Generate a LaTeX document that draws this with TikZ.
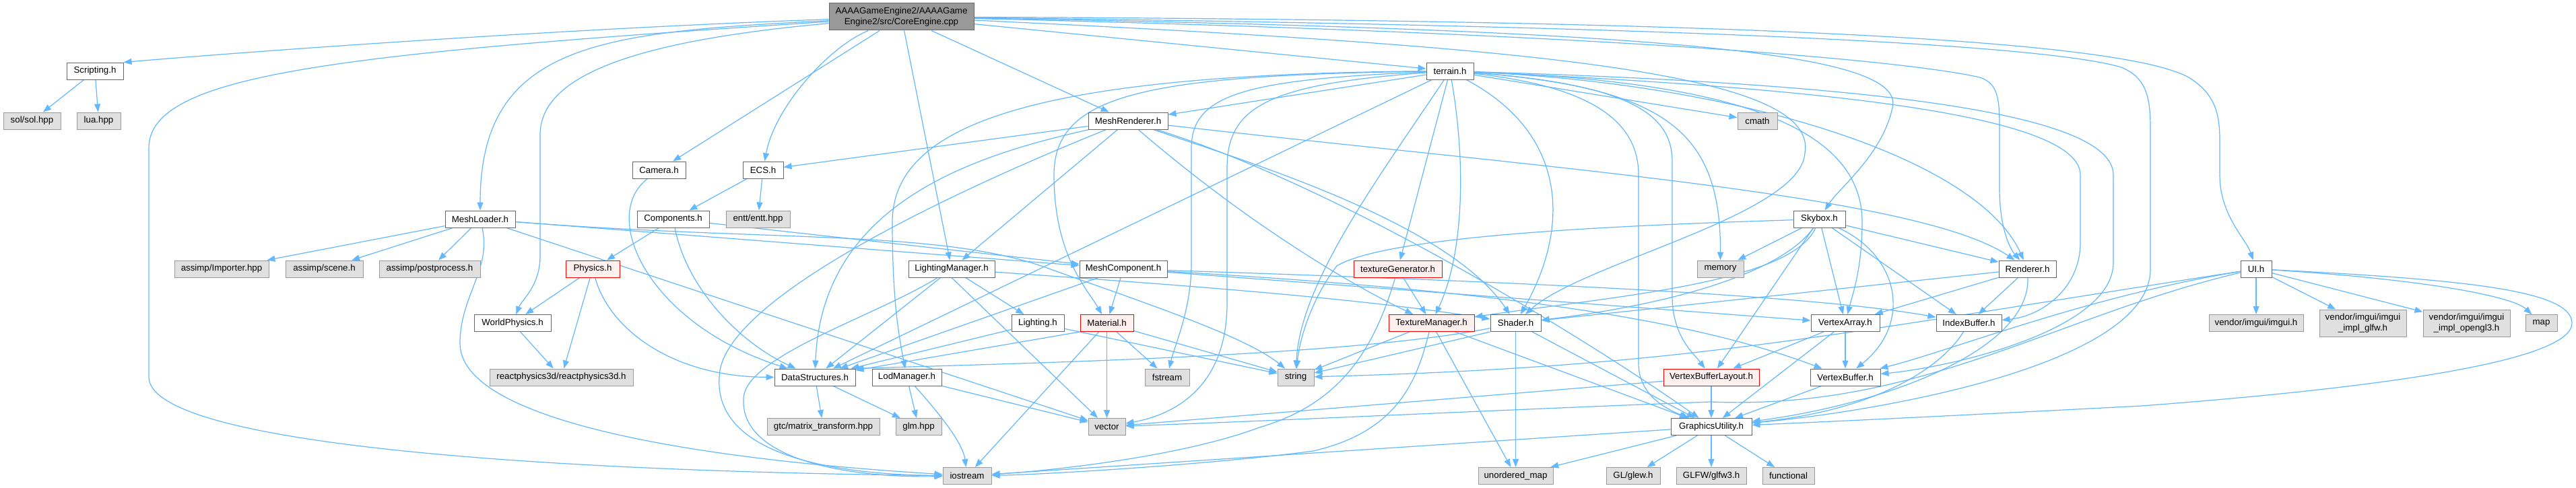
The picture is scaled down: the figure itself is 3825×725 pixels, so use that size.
\documentclass[tikz,border=0pt]{standalone}
\usepackage{fontspec}
\setmainfont{Liberation Sans}
\usetikzlibrary{arrows.meta}
\definecolor{edgeblue}{HTML}{63B8FF}
\definecolor{filedraw}{HTML}{666666}
\definecolor{sysfill}{HTML}{E0E0E0}
\definecolor{sysdraw}{HTML}{999999}
\definecolor{rootfill}{HTML}{999999}
\definecolor{truncfill}{HTML}{FFF0F0}
\definecolor{truncdraw}{HTML}{FF0000}
\pgfdeclarelayer{bg}
\pgfdeclarelayer{edges}
\pgfsetlayers{bg,edges,main}
\begin{document}
\begin{tikzpicture}[x=1pt,y=-1pt,
  nb/.style={draw, rectangle, minimum height=25pt, inner sep=0pt, line width=1pt,
             font=\fontsize{13.3}{15.5}\selectfont, align=center},
  file/.style={nb, fill=white, draw=filedraw},
  sys/.style={nb, fill=sysfill, draw=sysdraw},
  trunc/.style={nb, fill=truncfill, draw=truncdraw},
  rootn/.style={nb, fill=rootfill, draw=filedraw, minimum height=40pt},
  dep/.style={draw=edgeblue, line width=1.2pt, -{Triangle[length=12pt,width=9pt,fill=edgeblue]}}]
\useasboundingbox (0,0) rectangle (3825,725);
\begin{pgfonlayer}{bg}
\fill[white] (0,0) rectangle (3825,725);
\end{pgfonlayer}
% ---------- nodes ----------
\node[rootn, minimum width=215pt] (root) at (1338.5,25) {AAAAGameEngine2/AAAAGame\\Engine2/src/CoreEngine.cpp};
\node[file, minimum width=84pt] (scr) at (141,105.5) {Scripting.h};
\node[sys, minimum width=85pt] (sol) at (47.5,179.5) {sol/sol.hpp};
\node[sys, minimum width=65pt] (lua) at (146.5,179.5) {lua.hpp};
\node[file, minimum width=104pt] (ml) at (713,325.5) {MeshLoader.h};
\node[file, minimum width=79pt] (cam) at (978.5,252.5) {Camera.h};
\node[file, minimum width=60pt] (ecs) at (1133,252.5) {ECS.h};
\node[file, minimum width=107pt] (comp) at (999.5,325.5) {Components.h};
\node[sys, minimum width=95pt] (entt) at (1125.5,325.5) {entt/entt.hpp};
\node[sys, minimum width=140pt] (imp) at (329,399.5) {assimp/Importer.hpp};
\node[sys, minimum width=115pt] (scn) at (481.5,399.5) {assimp/scene.h};
\node[sys, minimum width=150pt] (post) at (638,399.5) {assimp/postprocess.h};
\node[trunc, minimum width=80pt] (phy) at (880,399.5) {Physics.h};
\node[file, minimum width=114pt] (wp) at (761,480) {WorldPhysics.h};
\node[sys, minimum width=213pt] (rp3) at (833.5,560.5) {reactphysics3d/reactphysics3d.h};
\node[file, minimum width=120pt] (ds) at (1210,560.5) {DataStructures.h};
\node[sys, minimum width=167pt] (gtc) at (1222.5,634) {gtc/matrix\_transform.hpp};
\node[file, minimum width=118pt] (mr) at (1675,179.5) {MeshRenderer.h};
\node[file, minimum width=128pt] (lm) at (1413,399.5) {LightingManager.h};
\node[file, minimum width=130pt] (mc) at (1668,399.5) {MeshComponent.h};
\node[file, minimum width=78pt] (lit) at (1541,480) {Lighting.h};
\node[trunc, minimum width=79pt] (mat) at (1643.5,480) {Material.h};
\node[file, minimum width=103pt] (lod) at (1346.5,560.5) {LodManager.h};
\node[sys, minimum width=66pt] (fst) at (1733,560.5) {fstream};
\node[sys, minimum width=54pt] (str) at (1924,560.5) {string};
\node[sys, minimum width=68pt] (glm) at (1364,634) {glm.hpp};
\node[sys, minimum width=55pt] (vec) at (1643.5,634) {vector};
\node[sys, minimum width=72pt] (ios) at (1436,707) {iostream};
\node[file, minimum width=70pt] (ter) at (2153,105.5) {terrain.h};
\node[trunc, minimum width=131pt] (tg) at (2075.5,399.5) {textureGenerator.h};
\node[trunc, minimum width=127pt] (tm) at (2125.5,480) {TextureManager.h};
\node[file, minimum width=75pt] (sh) at (2250.5,480) {Shader.h};
\node[sys, minimum width=111pt] (umap) at (2250.5,707) {unordered\_map};
\node[sys, minimum width=80pt] (glew) at (2425,707) {GL/glew.h};
\node[sys, minimum width=104pt] (glfw) at (2541,707) {GLFW/glfw3.h};
\node[sys, minimum width=77pt] (func) at (2655.5,707) {functional};
\node[file, minimum width=120pt] (gu) at (2541,634) {GraphicsUtility.h};
\node[trunc, minimum width=142pt] (vbl) at (2541,560.5) {VertexBufferLayout.h};
\node[file, minimum width=104pt] (vb) at (2740,560.5) {VertexBuffer.h};
\node[file, minimum width=102pt] (va) at (2740,480) {VertexArray.h};
\node[file, minimum width=97pt] (ib) at (2923.5,480) {IndexBuffer.h};
\node[file, minimum width=85pt] (ren) at (3010.5,399.5) {Renderer.h};
\node[sys, minimum width=69pt] (mem) at (2554.5,399.5) {memory};
\node[sys, minimum width=59pt] (cmath) at (2609.5,179.5) {cmath};
\node[file, minimum width=77pt] (sky) at (2701.5,325.5) {Skybox.h};
\node[file, minimum width=46pt] (ui) at (3350,399.5) {UI.h};
\node[sys, minimum width=140pt] (imgui) at (3350,480) {vendor/imgui/imgui.h};
\node[sys, minimum width=129pt, minimum height=40pt] (iglfw) at (3508.5,480) {vendor/imgui/imgui\\\_impl\_glfw.h};
\node[sys, minimum width=129pt, minimum height=40pt] (igl3) at (3662.5,480) {vendor/imgui/imgui\\\_impl\_opengl3.h};
\node[sys, minimum width=47pt] (map) at (3773.5,480) {map};
% ---------- edges ----------
\begin{pgfonlayer}{edges}
% root
\draw[dep] (root) .. controls (900,40) and (450,70) .. (scr.north east);
\draw[dep] (root) .. controls (500,80) and (221,110) .. (221,220) -- (221,560) .. controls (221,660) and (800,700) .. (ios);
\draw[dep] (root) .. controls (900,48) and (713,60) .. (ml);
\draw[dep] (root) .. controls (950,60) and (802,110) .. (802,200) -- (802,380) .. controls (802,425) and (775,445) .. (wp);
\draw[dep] (root) -- (cam);
\draw[dep] (root) .. controls (1230,70) and (1150,160) .. (ecs);
\draw[dep] (root) -- (lm);
\draw[dep] (root) -- (mr);
\draw[dep] (root) -- (ter);
\draw[dep] (root) .. controls (2300,70) and (2700,110) .. (2680,227) .. controls (2675,320) and (2350,390) .. (sh);
\draw[dep] (root) .. controls (2500,45) and (2830,80) .. (2810,160) .. controls (2795,230) and (2730,280) .. (sky);
\draw[dep] (root) .. controls (2400,50) and (2830,90) .. (2940,115) .. controls (2969,125) and (2969,150) .. (2969,200) -- (2969,280) .. controls (2969,340) and (2985,370) .. (ren);
\draw[dep] (root) .. controls (2600,40) and (3050,70) .. (3150,100) .. controls (3185,115) and (3193,140) .. (3193,190) -- (3193,400) .. controls (3193,540) and (2800,610) .. (gu);
\draw[dep] (root) .. controls (2600,30) and (3150,60) .. (3250,115) .. controls (3290,140) and (3296,170) .. (3296,210) -- (3296,260) .. controls (3296,320) and (3335,355) .. (ui);
% Scripting
\draw[dep] (scr) -- (sol);
\draw[dep] (scr) -- (lua);
% MeshLoader
\draw[dep] (ml) -- (imp);
\draw[dep] (ml) -- (scn);
\draw[dep] (ml) -- (post);
\draw[dep] (ml) .. controls (730,400) and (683,440) .. (683,510) .. controls (683,620) and (1000,680) .. (ios);
\draw[dep] (ml) -- (vec);
\draw[dep] (ml) -- (mc);
\draw[dep] (ml) .. controls (1150,360) and (1400,340) .. (1560,400) .. controls (1700,450) and (1850,500) .. (str);
% Camera, ECS, Components, Physics
\draw[dep] (cam) .. controls (890,320) and (960,480) .. (ds);
\draw[dep] (ecs) -- (comp);
\draw[dep] (ecs) -- (entt);
\draw[dep] (comp) -- (phy);
\draw[dep] (comp) .. controls (1020,430) and (1100,510) .. (ds);
\draw[dep] (comp) -- (mc);
\draw[dep] (phy) -- (wp);
\draw[dep] (phy) -- (rp3);
\draw[dep] (phy) .. controls (905,490) and (1000,560) .. (ds);
\draw[dep] (wp) -- (rp3);
\draw[dep] (ds) -- (gtc);
\draw[dep] (ds) -- (glm);
% MeshRenderer
\draw[dep] (mr) -- (ecs);
\draw[dep] (mr) -- (lm);
\draw[dep] (mr) .. controls (1450,230) and (1220,300) .. (ds);
\draw[dep] (mr) .. controls (1450,270) and (1070,440) .. (1068,560) .. controls (1060,680) and (1250,705) .. (ios);
\draw[dep] (mr) .. controls (1850,330) and (2000,420) .. (tm);
\draw[dep] (mr) .. controls (1850,240) and (2150,330) .. (sh);
\draw[dep] (mr) .. controls (2300,250) and (2850,290) .. (ren);
\draw[dep] (mr) .. controls (2000,280) and (2380,520) .. (gu);
% LightingManager
\draw[dep] (lm) -- (lit);
\draw[dep] (lm) -- (ds);
\draw[dep] (lm.south) -- (vec);
\draw[dep] (lm) .. controls (1300,470) and (1104,530) .. (1104,593) .. controls (1100,680) and (1250,710) .. (ios);
\draw[dep] (lm) .. controls (1700,420) and (2000,440) .. (sh);
% MeshComponent
\draw[dep] (mc) -- (mat);
\draw[dep] (mc) -- (ds);
\draw[dep] (mc) -- (va);
\draw[dep] (mc) .. controls (2300,420) and (2700,440) .. (ib);
\draw[dep] (mc) .. controls (2200,430) and (2500,470) .. (vb);
% Lighting, Material, LodManager
\draw[dep] (lit) -- (ds);
\draw[dep] (lit) -- (str);
\draw[dep] (mat.south west) -- (ds);
\draw[dep] (mat) -- (ios);
\draw[dep] (mat) -- (vec);
\draw[dep] (mat) -- (fst);
\draw[dep] (mat) -- (str);
\draw[dep] (lod) -- (glm);
\draw[dep] (lod) -- (vec);
\draw[dep] (lod) .. controls (1400,620) and (1430,660) .. (ios);
% terrain
\draw[dep] (ter) -- (mr);
\draw[dep] (ter) -- (cmath);
\draw[dep] (ter) -- (ds);
\draw[dep] (ter) .. controls (1550,110) and (1325,180) .. (1325,330) .. controls (1325,450) and (1335,500) .. (lod);
\draw[dep] (ter) .. controls (1700,112) and (1565,140) .. (1565,260) .. controls (1565,380) and (1615,430) .. (mat);
\draw[dep] (ter) .. controls (1850,118) and (1769,140) .. (1769,220) -- (1769,390) .. controls (1769,460) and (1745,510) .. (fst);
\draw[dep] (ter) .. controls (1880,125) and (1822,160) .. (1822,250) -- (1822,450) .. controls (1822,570) and (1750,615) .. (vec);
\draw[dep] (ter) .. controls (2050,260) and (1930,420) .. (str);
\draw[dep] (ter) -- (tg);
\draw[dep] (ter) .. controls (2178,250) and (2172,380) .. (tm);
\draw[dep] (ter) .. controls (2330,200) and (2330,340) .. (sh);
\draw[dep] (ter) .. controls (2380,130) and (2433,190) .. (2433,260) -- (2433,540) .. controls (2433,590) and (2480,610) .. (gu);
\draw[dep] (ter) .. controls (2420,125) and (2483,170) .. (2483,240) -- (2483,440) .. controls (2483,500) and (2515,525) .. (vbl);
\draw[dep] (ter) .. controls (2480,130) and (2555,200) .. (mem);
\draw[dep] (ter) .. controls (2550,120) and (2765,180) .. (2765,330) .. controls (2765,400) and (2750,440) .. (va);
\draw[dep] (ter) .. controls (2600,125) and (2940,240) .. (ren);
\draw[dep] (ter) .. controls (2700,130) and (3089,170) .. (3089,260) -- (3089,360) .. controls (3089,430) and (3030,470) .. (ib);
\draw[dep] (ter) .. controls (2800,125) and (3138,170) .. (3138,260) -- (3138,390) .. controls (3138,490) and (2900,545) .. (vb);
% textureGenerator, TextureManager, Shader
\draw[dep] (tg) -- (tm);
\draw[dep] (tg) .. controls (2040,520) and (1990,600) .. (1870,635) .. controls (1750,680) and (1550,700) .. (ios);
\draw[dep] (tm) -- (str);
\draw[dep] (tm) .. controls (2105,560) and (2080,640) .. (1950,670) .. controls (1800,690) and (1550,705) .. (ios);
\draw[dep] (tm) -- (umap);
\draw[dep] (tm) -- (gu);
\draw[dep] (sh.south west) -- (str);
\draw[dep] (sh) -- (umap);
\draw[dep] (sh) -- (gu);
\draw[dep] (sh) .. controls (2000,530) and (1500,540) .. (ds.north east);
% Skybox
\draw[dep] (sky) -- (mem);
\draw[dep] (sky) .. controls (2400,335) and (2060,350) .. (1985,395) .. controls (1950,440) and (1930,500) .. (str);
\draw[dep] (sky) .. controls (2650,400) and (2500,450) .. (sh);
\draw[dep] (sky) .. controls (2660,420) and (2400,440) .. (tm);
\draw[dep] (sky) -- (va);
\draw[dep] (sky) .. controls (2820,380) and (2840,480) .. (vb);
\draw[dep] (sky) -- (ib);
\draw[dep] (sky) -- (vbl);
\draw[dep] (sky) -- (ren);
% Renderer, buffers
\draw[dep] (ren) -- (va);
\draw[dep] (ren) -- (ib);
\draw[dep] (ren) -- (sh);
\draw[dep] (ren) .. controls (3015,520) and (2800,600) .. (gu);
\draw[dep] (va) -- (vb);
\draw[dep] (va) -- (vbl);
\draw[dep] (va) -- (gu);
\draw[dep] (ib) .. controls (2880,550) and (2780,610) .. (gu);
\draw[dep] (vb) -- (gu);
\draw[dep] (vbl) -- (gu);
\draw[dep] (vbl) -- (vec);
% GraphicsUtility
\draw[dep] (gu) -- (ios);
\draw[dep] (gu) -- (umap);
\draw[dep] (gu) -- (glew);
\draw[dep] (gu) -- (glfw);
\draw[dep] (gu) -- (func);
% UI
\draw[dep] (ui) -- (imgui);
\draw[dep] (ui) -- (iglfw);
\draw[dep] (ui) -- (igl3);
\draw[dep] (ui) .. controls (3600,415) and (3730,440) .. (map);
\draw[dep] (ui) .. controls (2700,500) and (2500,545) .. (str);
\draw[dep] (ui) .. controls (3050,470) and (2850,610) .. (2540,597) .. controls (2200,610) and (1900,625) .. (vec);
\draw[dep] (ui) .. controls (3100,440) and (2900,520) .. (vb);
\draw[dep] (ui) .. controls (3650,415) and (3819,430) .. (3819,480) .. controls (3819,535) and (3550,575) .. (3180,603) .. controls (2950,615) and (2750,625) .. (gu);
\end{pgfonlayer}
\end{tikzpicture}
\end{document}
